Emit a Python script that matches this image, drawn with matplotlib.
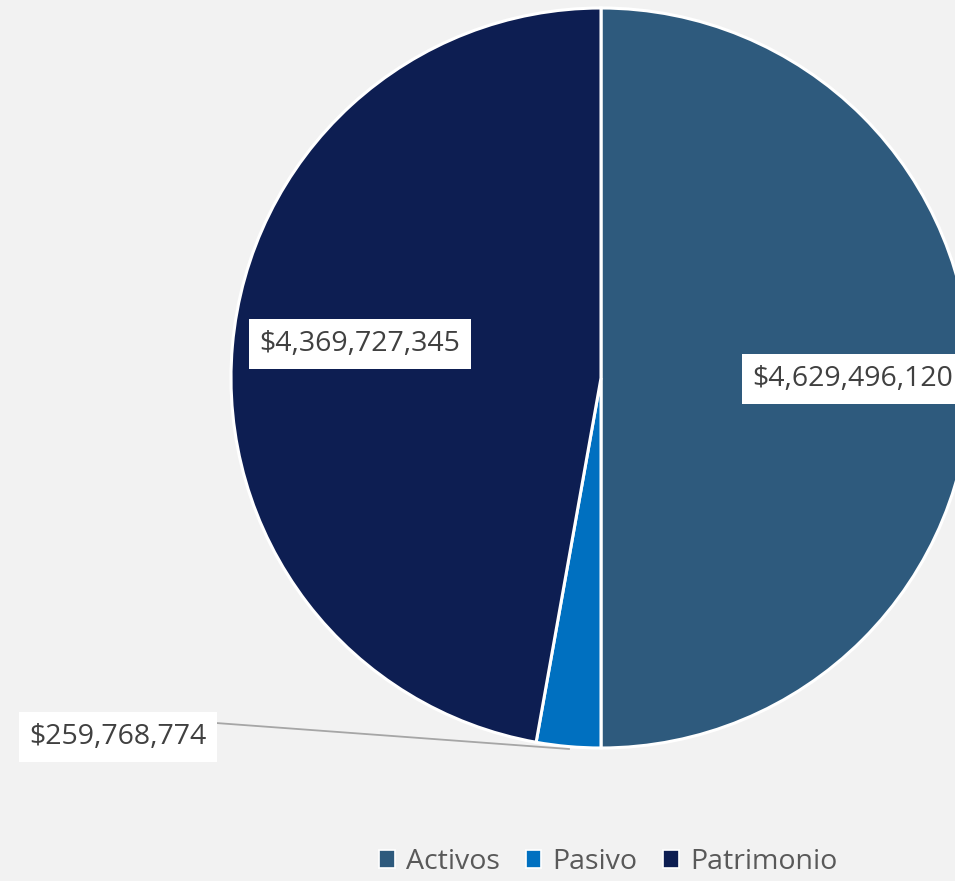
import matplotlib
matplotlib.use("Agg")
import matplotlib.pyplot as plt
from matplotlib.patches import Patch

categories = ["Activos", "Pasivo", "Patrimonio"]
values = [4629496120, 259768774, 4369727345]
labels = ["$4,629,496,120", "$259,768,774", "$4,369,727,345"]
colors = ["#2E5A7D", "#0070C0", "#0D1E52"]

W, H = 955, 881
fig = plt.figure(figsize=(W / 100, H / 100), dpi=100, facecolor="#F2F2F2")
ax = fig.add_axes([0, 0, 1, 1])
ax.set_facecolor("#F2F2F2")

cx, cy, r = 601, H - 378, 370
wedges, _ = ax.pie(values, colors=colors, startangle=90, counterclock=False,
                   center=(cx, cy), radius=r, frame=True,
                   wedgeprops=dict(edgecolor="white", linewidth=2.2))
ax.set_xlim(0, W)
ax.set_ylim(0, H)
ax.set_aspect("equal")
ax.axis("off")

font = "Open Sans"
tcol = "#404040"
fs = 20.5
bbox = dict(boxstyle="square,pad=0.37", fc="white", ec="none")
pos = [(853, H - 379), (118, H - 737), (360, H - 344)]
for (x, y), lab in zip(pos, labels):
    ax.text(x, y, lab, ha="center", va="center", fontsize=fs, color=tcol,
            family=font, bbox=bbox, zorder=5)

# leader line for Pasivo
ax.plot([216, 569], [H - 723, H - 749], color="#A6A6A6", lw=1.3, zorder=4)

handles = [Patch(facecolor=c, edgecolor="white", linewidth=1.2) for c in colors]
leg = fig.legend(handles, categories, loc="center", bbox_to_anchor=(0.637, 1 - 862 / H),
                 ncol=3, frameon=False, handlelength=0.55, handleheight=0.55,
                 handletextpad=0.4, columnspacing=0.9,
                 prop=dict(family=font, size=20.5))
for t in leg.get_texts():
    t.set_color("#595959")

fig.savefig("out.png", dpi=100, facecolor=fig.get_facecolor())
